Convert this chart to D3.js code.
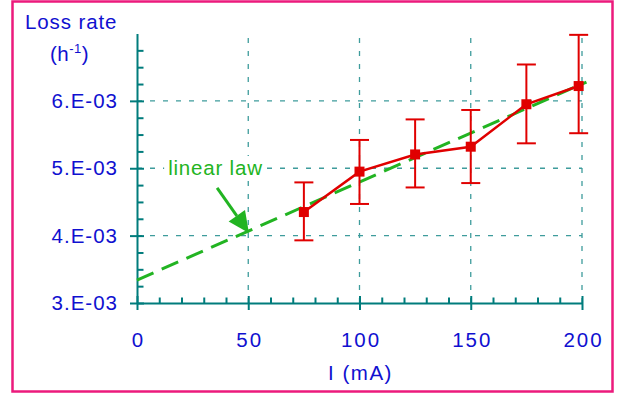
<!DOCTYPE html>
<html>
<head>
<meta charset="utf-8">
<script src="https://cdn.jsdelivr.net/npm/d3@7"></script>
<style>
  html, body { margin: 0; padding: 0; background: #fff; }
  svg { display: block; font-family: "Liberation Sans", Arial, sans-serif; }
</style>
</head>
<body>
<div id="chart"></div>
<script>
(function () {
  'use strict';

  // Data
  const current = [75, 100, 125, 150, 175, 198.5];                 // I (mA)
  const lossRate = [4.35e-3, 4.95e-3, 5.205e-3, 5.32e-3, 5.95e-3, 6.22e-3];
  const errLow = [3.93e-3, 4.47e-3, 4.715e-3, 4.78e-3, 5.37e-3, 5.52e-3];
  const errHigh = [4.79e-3, 5.42e-3, 5.725e-3, 5.865e-3, 6.54e-3, 6.98e-3];

  const lawX = [0, 202];
  const lawY = [3.34e-3, 6.28e-3];

  const xTicks = [0, 50, 100, 150, 200];
  const xTickLabels = ['0', '50', '100', '150', '200'];
  const yTicks = [3e-3, 4e-3, 5e-3, 6e-3];
  const yTickLabels = ['3.E-03', '4.E-03', '5.E-03', '6.E-03'];

  const COLORS = {
    frame: '#ec1a7c',
    axis: '#007c7c',
    grid: '#3e9c9c',
    text: '#1010d0',
    data: '#e00000',
    law: '#22b422'
  };

  const W = 619, H = 394;

  const x = d3.scaleLinear().domain([0, 200]).range([137, 582]);
  const y = d3.scaleLinear().domain([3e-3, 7e-3]).range([303, 33.5]);

  const xMinor = d3.range(10, 200, 10).filter(v => v % 50 !== 0);
  const yMinor = d3.range(3.25e-3, 7e-3, 0.25e-3).filter(v => Math.abs(v * 1000 - Math.round(v * 1000)) > 1e-6);

  const svg = d3.select('#chart').append('svg')
    .attr('width', W)
    .attr('height', H);

  svg.append('rect')
    .attr('width', W)
    .attr('height', H)
    .attr('fill', '#fff');

  // Frame
  svg.append('rect')
    .attr('x', 12.5)
    .attr('y', 1.5)
    .attr('width', 600)
    .attr('height', 390)
    .attr('fill', 'none')
    .attr('stroke', COLORS.frame)
    .attr('stroke-width', 2.5);

  // Grid
  const grid = svg.append('g').attr('class', 'grid')
    .attr('stroke', COLORS.grid)
    .attr('stroke-width', 1.3)
    .attr('stroke-dasharray', '5,8');

  grid.selectAll('.h').data(yTicks.slice(1)).join('line')
    .attr('x1', x(0)).attr('x2', x(200))
    .attr('y1', d => y(d)).attr('y2', d => y(d));

  grid.selectAll('.v').data(xTicks.slice(1)).join('line')
    .attr('x1', d => x(d)).attr('x2', d => x(d))
    .attr('y1', y(3e-3)).attr('y2', y(7e-3));

  // X axis
  const xAxisG = svg.append('g')
    .attr('transform', `translate(0,${y(3e-3)})`)
    .call(d3.axisBottom(x).tickValues(xTicks)
      .tickFormat((d, i) => xTickLabels[i])
      .tickSize(7).tickSizeOuter(0).tickPadding(22));
  xAxisG.selectAll('.tick line').attr('y1', -7);

  const xMinorG = svg.append('g')
    .attr('transform', `translate(0,${y(3e-3)})`)
    .call(d3.axisTop(x).tickValues(xMinor).tickFormat('').tickSize(5.5).tickSizeOuter(0));
  xMinorG.select('.domain').remove();

  // Y axis
  const yAxisG = svg.append('g')
    .attr('transform', `translate(${x(0)},0)`)
    .call(d3.axisLeft(y).tickValues(yTicks)
      .tickFormat((d, i) => yTickLabels[i])
      .tickSize(7).tickSizeOuter(0).tickPadding(12));
  yAxisG.selectAll('.tick line').attr('x1', 7);

  const yMinorG = svg.append('g')
    .attr('transform', `translate(${x(0)},0)`)
    .call(d3.axisRight(y).tickValues(yMinor).tickFormat('').tickSize(6.5).tickSizeOuter(0));
  yMinorG.select('.domain').remove();

  svg.selectAll('.domain, .tick line')
    .attr('stroke', COLORS.axis)
    .attr('stroke-width', 2);

  xAxisG.selectAll('.tick text')
    .attr('fill', COLORS.text)
    .attr('font-size', 20.5)
    .attr('letter-spacing', 2)
    .attr('dx', 1)
    .attr('font-family', '"Liberation Sans", Arial, sans-serif');

  yAxisG.selectAll('.tick text')
    .attr('fill', COLORS.text)
    .attr('font-size', 20.5)
    .attr('letter-spacing', 1)
    .attr('font-family', '"Liberation Sans", Arial, sans-serif');

  // Axis titles
  const titleY = svg.append('g').attr('fill', COLORS.text).attr('font-size', 20.5).attr('letter-spacing', 0.9);
  titleY.append('text').attr('x', 25).attr('y', 29).text('Loss rate');
  const unit = titleY.append('text').attr('x', 50).attr('y', 61).attr('letter-spacing', 0.5);
  unit.append('tspan').text('(h');
  unit.append('tspan').attr('font-size', 13).attr('dy', -8).text('-1');
  unit.append('tspan').attr('dy', 8).text(')');

  svg.append('text')
    .attr('x', (x(0) + x(200)) / 2 + 1)
    .attr('y', 380)
    .attr('text-anchor', 'middle')
    .attr('fill', COLORS.text)
    .attr('font-size', 20.5)
    .attr('letter-spacing', 1.5)
    .text('I (mA)');

  // Linear law
  const lawLine = d3.line().x(d => x(d[0])).y(d => y(d[1]));
  svg.append('path')
    .datum(lawX.map((v, i) => [v, lawY[i]]))
    .attr('d', lawLine)
    .attr('fill', 'none')
    .attr('stroke', COLORS.law)
    .attr('stroke-width', 3)
    .attr('stroke-dasharray', '18,9');

  // Annotation "linear law" with arrow (label sits on a white box over the grid)
  const labelG = svg.append('g');
  const labelBg = labelG.append('rect').attr('fill', '#fff');
  const label = labelG.append('text')
    .attr('x', x(14))
    .attr('y', y(4.9e-3))
    .attr('fill', COLORS.law)
    .attr('font-size', 20.5)
    .attr('letter-spacing', 0.8)
    .text('linear law');
  const bb = label.node().getBBox();
  labelBg
    .attr('x', bb.x - 4)
    .attr('y', bb.y)
    .attr('width', bb.width + 8)
    .attr('height', bb.height);

  const arrowFrom = [36, 4.71e-3];
  const arrowTo = [50.3, 4.04e-3];
  const p0 = [x(arrowFrom[0]), y(arrowFrom[1])];
  const p1 = [x(arrowTo[0]), y(arrowTo[1])];
  const ang = Math.atan2(p1[1] - p0[1], p1[0] - p0[0]);
  const headLen = 21, headHalf = 10;
  const base = [p1[0] - headLen * Math.cos(ang), p1[1] - headLen * Math.sin(ang)];
  svg.append('line')
    .attr('x1', p0[0]).attr('y1', p0[1])
    .attr('x2', base[0]).attr('y2', base[1])
    .attr('stroke', COLORS.law)
    .attr('stroke-width', 3);
  svg.append('polygon')
    .attr('points', [
      p1,
      [base[0] + headHalf * Math.sin(ang), base[1] - headHalf * Math.cos(ang)],
      [base[0] - headHalf * Math.sin(ang), base[1] + headHalf * Math.cos(ang)]
    ].map(p => p.join(',')).join(' '))
    .attr('fill', COLORS.law);

  // Error bars
  const eb = svg.append('g').attr('stroke', COLORS.data).attr('stroke-width', 2);
  current.forEach((c, i) => {
    const cx = x(c);
    eb.append('line').attr('x1', cx).attr('x2', cx).attr('y1', y(errLow[i])).attr('y2', y(errHigh[i]));
    eb.append('line').attr('x1', cx - 9.5).attr('x2', cx + 9.5).attr('y1', y(errLow[i])).attr('y2', y(errLow[i]));
    eb.append('line').attr('x1', cx - 9.5).attr('x2', cx + 9.5).attr('y1', y(errHigh[i])).attr('y2', y(errHigh[i]));
  });

  // Data line and markers
  const dataLine = d3.line().x(d => x(d[0])).y(d => y(d[1]));
  svg.append('path')
    .datum(current.map((c, i) => [c, lossRate[i]]))
    .attr('d', dataLine)
    .attr('fill', 'none')
    .attr('stroke', COLORS.data)
    .attr('stroke-width', 2.5);

  svg.append('g').selectAll('rect')
    .data(current.map((c, i) => [c, lossRate[i]]))
    .join('rect')
    .attr('x', d => x(d[0]) - 5)
    .attr('y', d => y(d[1]) - 5)
    .attr('width', 10)
    .attr('height', 10)
    .attr('fill', COLORS.data);
})();
</script>
</body>
</html>
